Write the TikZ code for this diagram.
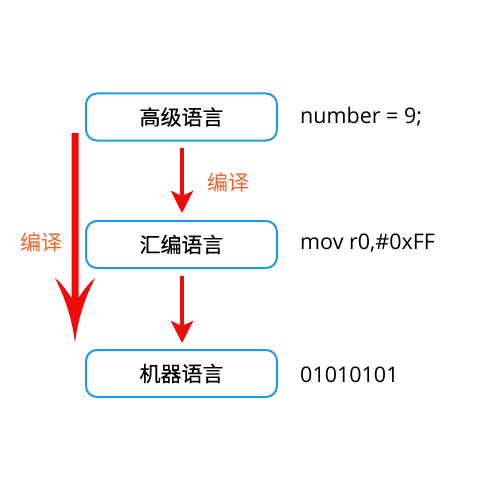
\documentclass[tikz,border=0pt]{standalone}
\usepackage{fontspec}
\setmainfont{Open Sans}
\newfontfamily\cjk[FakeBold=0.2]{Noto Sans CJK SC}
\newfontfamily\cjklight{Noto Sans CJK SC}
\usetikzlibrary{arrows.meta}
\definecolor{boxblue}{HTML}{1E9BE2}
\definecolor{arrred}{HTML}{F00A0A}
\definecolor{lblorange}{HTML}{F0622A}
\begin{document}
\begin{tikzpicture}[x=1pt,y=-1pt,
  langbox/.style={draw=boxblue,line width=2pt,rounded corners=11pt,minimum width=191pt,minimum height=47pt,inner sep=0pt,font=\cjk\fontsize{21}{24}\selectfont},
  code/.style={anchor=west,inner sep=0pt,font=\fontsize{21.5}{24}\selectfont},
  lbl/.style={text=lblorange,inner sep=0pt,font=\cjklight\fontsize{21}{24}\selectfont},
  smallarrow/.style={draw=arrred,line width=3.5pt,-{Stealth[length=22pt,width=22pt,inset=5pt]}}]
\useasboundingbox (0,0) rectangle (500,500);
\node[langbox] (hl) at (181.5,117) {高级语言};
\node[langbox] (asm) at (181.5,244.5) {汇编语言};
\node[langbox] (ml) at (181.5,373.5) {机器语言};
\node[code] (c1) at (300,117) {number = 9;};
\node[code] (c2) at (300,243) {mov r0,\#0xFF};
\node[code] (c3) at (300,375) {01010101};
\draw[smallarrow,shorten <=6pt,shorten >=7pt] (hl.south -| 182,0) -- (asm.north -| 182,0);
\draw[smallarrow,shorten <=7pt,shorten >=6pt] (asm.south -| 182,0) -- (ml.north -| 182,0);
\node[lbl] (l1) at (228,182) {编译};
\node[lbl] (l2) at (41,242) {编译};
\coordinate (bigstart) at (75,133);
\coordinate (bigtip) at (75,343);
\fill[arrred] (78.5,133) -- (78.5,298) .. controls (85,288) and (90,282) .. (95,278)
  .. controls (85,298) and (78,318) .. (bigtip)
  .. controls (72,318) and (65,298) .. (55,278)
  .. controls (60,282) and (65,288) .. (71.5,298) -- (71.5,133) -- cycle;
\end{tikzpicture}
\end{document}
